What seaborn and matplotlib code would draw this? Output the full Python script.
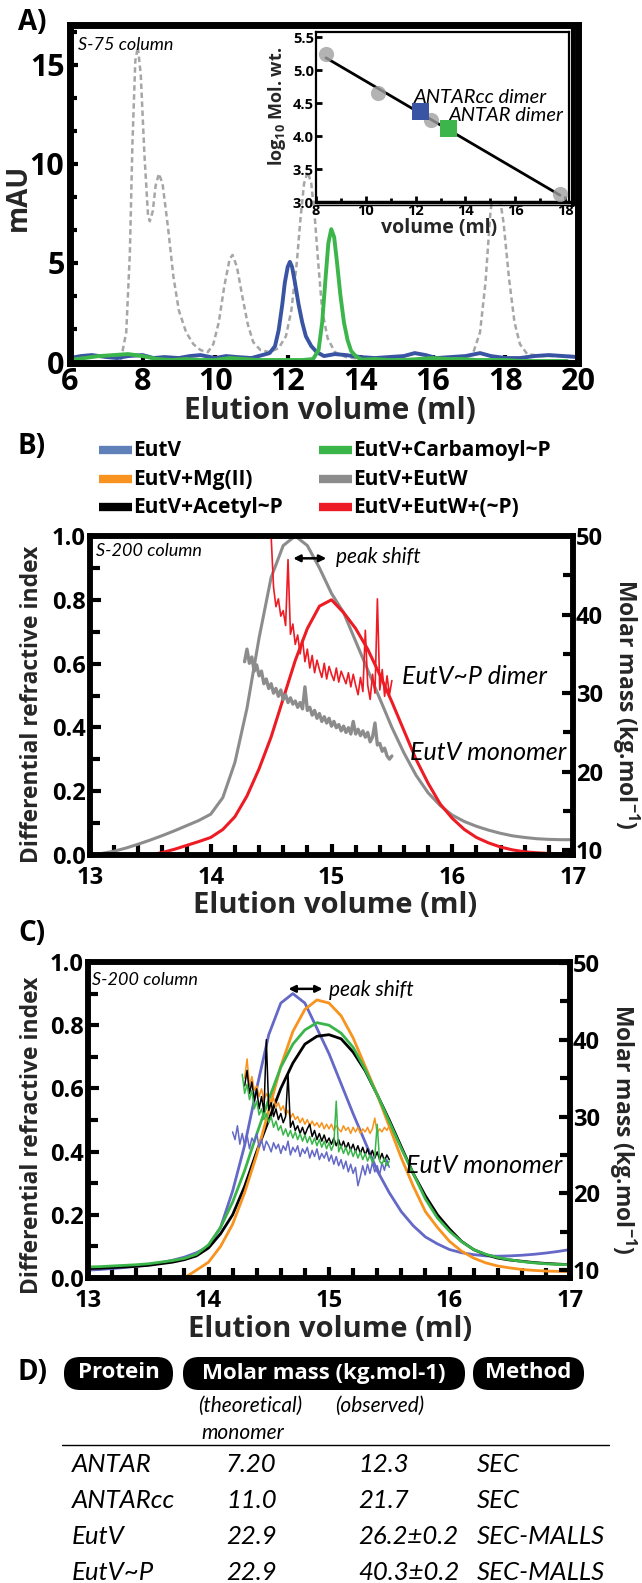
import numpy as np
import pandas as pd
import matplotlib
matplotlib.use("Agg")
import matplotlib.pyplot as plt
import seaborn as sns
from matplotlib.lines import Line2D
from matplotlib.patches import FancyBboxPatch
from matplotlib.ticker import MultipleLocator, FormatStrFormatter

# ---------------- Panel A data ----------------
A_std_x = [7.40, 7.55, 7.65, 7.72, 7.80, 7.87, 7.95, 8.05, 8.15, 8.20, 8.28, 8.36, 8.45, 8.55, 8.70,
           8.85, 9.00, 9.20, 9.40, 9.60, 9.80, 9.95, 10.10, 10.25, 10.40, 10.48, 10.60, 10.75, 10.90,
           11.05, 11.25, 11.50, 11.75, 11.95, 12.10, 12.25, 12.35, 12.45, 12.55, 12.65, 12.75, 12.85,
           12.95, 13.10, 13.30, 13.60, 14.00, 15.00, 16.00, 16.80, 17.10, 17.30, 17.45, 17.58, 17.70,
           17.82, 17.95, 18.10, 18.25, 18.40, 18.60, 19.00, 20.00]
A_std_y = [0.1, 1.5, 5.5, 11.0, 15.2, 15.9, 14.5, 10.5, 7.4, 7.1, 7.6, 8.9, 9.5, 9.0, 6.8,
           4.3, 2.6, 1.5, 0.9, 0.6, 0.5, 0.9, 2.0, 3.8, 5.2, 5.4, 4.8, 3.3, 1.9,
           1.0, 0.6, 0.5, 0.7, 1.3, 2.6, 5.0, 7.2, 9.0, 9.6, 9.0, 7.2, 4.8,
           2.6, 1.2, 0.5, 0.25, 0.15, 0.1, 0.1, 0.15, 0.4, 1.5, 4.0, 7.4, 9.3,
           8.6, 7.0, 4.2, 2.0, 0.9, 0.4, 0.3, 0.3]
A_antarcc_x = [6.0, 6.3, 6.6, 7.0, 7.3, 7.6, 8.0, 8.3, 8.6, 9.0, 9.3, 9.6, 10.0, 10.3, 10.6, 11.0,
               11.3, 11.5, 11.65, 11.75, 11.85, 11.92, 12.0, 12.06, 12.12, 12.2, 12.3, 12.4, 12.5,
               12.65, 12.8, 13.0, 13.3, 13.6, 14.0, 14.4, 14.8, 15.2, 15.5, 15.8, 16.1, 16.5, 16.9,
               17.3, 17.6, 18.0, 18.4, 18.8, 19.2, 19.6, 20.0]
A_antarcc_y = [0.2, 0.3, 0.35, 0.25, 0.2, 0.3, 0.35, 0.2, 0.25, 0.2, 0.3, 0.35, 0.2, 0.3, 0.25, 0.2,
               0.35, 0.45, 0.8, 1.6, 2.9, 4.0, 4.8, 5.05, 4.8, 4.0, 2.9, 2.0, 1.3,
               0.8, 0.5, 0.3, 0.4, 0.35, 0.25, 0.2, 0.25, 0.3, 0.45, 0.35, 0.2, 0.25, 0.3,
               0.45, 0.3, 0.2, 0.2, 0.3, 0.35, 0.3, 0.25]
A_antar_x = [6.0, 6.4, 6.8, 7.2, 7.6, 8.0, 8.4, 8.8, 9.2, 9.6, 10.0, 10.4, 10.8, 11.2, 11.6, 12.0,
             12.4, 12.7, 12.85, 12.95, 13.05, 13.12, 13.2, 13.28, 13.36, 13.45, 13.55, 13.65,
             13.75, 13.9, 14.05, 14.4, 14.8, 15.2, 15.6, 16.0, 16.4, 16.8, 17.2, 17.6, 18.0,
             18.4, 18.8, 19.2, 19.7]
A_antar_y = [0.1, 0.2, 0.3, 0.35, 0.4, 0.3, 0.15, 0.1, 0.15, 0.1, 0.1, 0.2, 0.15, 0.1, 0.1, 0.1,
             0.1, 0.15, 0.6, 2.0, 4.4, 6.0, 6.7, 6.3, 5.0, 3.4, 2.0, 1.1,
             0.55, 0.25, 0.12, 0.15, 0.1, 0.1, 0.15, 0.2, 0.15, 0.15, 0.1, 0.1, 0.1,
             0.05, 0.05, 0.05, 0.05]

# inset calibration
std_vol = [8.4, 10.5, 12.6, 17.8]
std_logmw = [5.24, 4.66, 4.25, 3.12]
sample_names = ["ANTARcc dimer", "ANTAR dimer"]
sample_vol = [12.18, 13.34]
sample_logmw = [4.37, 4.12]

# ---------------- Panels B / C data ----------------
RI_X = [13.0, 13.1, 13.2, 13.3, 13.4, 13.5, 13.6, 13.7, 13.8, 13.9, 14.0, 14.1, 14.2, 14.3, 14.4,
        14.5, 14.6, 14.7, 14.8, 14.9, 15.0, 15.1, 15.2, 15.3, 15.4, 15.5, 15.6, 15.7, 15.8, 15.9,
        16.0, 16.1, 16.2, 16.3, 16.4, 16.5, 16.6, 16.7, 16.8, 16.9, 17.0]
nan = np.nan
B_ri_eutw = [nan, 0.005, 0.012, 0.022, 0.034, 0.047, 0.061, 0.076, 0.092, 0.108, 0.128, 0.18, 0.29,
             0.46, 0.68, 0.87, 0.97, 1.0, 0.97, 0.90, 0.82, 0.76, 0.67, 0.58, 0.49, 0.40, 0.32,
             0.25, 0.195, 0.155, 0.125, 0.105, 0.09, 0.078, 0.068, 0.06, 0.055, 0.051, 0.049,
             0.048, 0.048]
B_ri_eutwp = [nan, nan, nan, nan, nan, 0.0, 0.008, 0.018, 0.03, 0.042, 0.055, 0.08, 0.12, 0.185,
              0.27, 0.37, 0.49, 0.61, 0.71, 0.78, 0.80, 0.76, 0.71, 0.645, 0.565, 0.48, 0.39,
              0.30, 0.225, 0.16, 0.115, 0.08, 0.055, 0.038, 0.025, 0.016, 0.01, 0.007, 0.005,
              0.004, 0.004]
C_ri_eutv = [0.025, 0.027, 0.03, 0.033, 0.037, 0.042, 0.048, 0.056, 0.066, 0.08, 0.10, 0.16, 0.275,
             0.42, 0.60, 0.77, 0.87, 0.90, 0.87, 0.79, 0.71, 0.615, 0.52, 0.43, 0.34, 0.27, 0.21,
             0.165, 0.13, 0.108, 0.09, 0.08, 0.074, 0.07, 0.069, 0.07, 0.072, 0.075, 0.079,
             0.084, 0.09]
C_ri_mg = [nan, nan, nan, nan, nan, nan, nan, nan, 0.0, 0.025, 0.05, 0.10, 0.17, 0.27, 0.39, 0.53,
           0.67, 0.78, 0.85, 0.88, 0.87, 0.83, 0.76, 0.67, 0.58, 0.48, 0.38, 0.29, 0.21, 0.16,
           0.116, 0.085, 0.063, 0.048, 0.038, 0.032, 0.027, 0.024, 0.022, 0.021, 0.02]
C_ri_carb = [0.035, 0.036, 0.038, 0.04, 0.042, 0.045, 0.05, 0.055, 0.062, 0.075, 0.105, 0.16, 0.24,
             0.34, 0.455, 0.565, 0.667, 0.74, 0.785, 0.808, 0.80, 0.775, 0.73, 0.66, 0.58, 0.495,
             0.41, 0.33, 0.25, 0.19, 0.148, 0.115, 0.09, 0.075, 0.065, 0.058, 0.052, 0.048,
             0.045, 0.043, 0.042]
C_ri_acetyl = [0.03, 0.031, 0.033, 0.035, 0.037, 0.04, 0.045, 0.05, 0.058, 0.07, 0.095, 0.14, 0.20,
               0.29, 0.40, 0.50, 0.60, 0.68, 0.74, 0.765, 0.77, 0.757, 0.715, 0.656, 0.58, 0.50,
               0.415, 0.33, 0.26, 0.20, 0.155, 0.116, 0.09, 0.074, 0.063, 0.057, 0.053, 0.049,
               0.046, 0.044, 0.042]

MM_X = [14.20, 14.22, 14.24, 14.26, 14.28, 14.30, 14.32, 14.34, 14.36, 14.38, 14.40, 14.42, 14.44,
        14.46, 14.48, 14.50, 14.52, 14.54, 14.56, 14.58, 14.60, 14.62, 14.64, 14.66, 14.68, 14.70,
        14.72, 14.74, 14.76, 14.78, 14.80, 14.82, 14.84, 14.86, 14.88, 14.90, 14.92, 14.94, 14.96,
        14.98, 15.00, 15.02, 15.04, 15.06, 15.08, 15.10, 15.12, 15.14, 15.16, 15.18, 15.20, 15.22,
        15.24, 15.26, 15.28, 15.30, 15.32, 15.34, 15.36, 15.38, 15.40, 15.42, 15.44, 15.46, 15.48,
        15.50]
B_mm_eutw = [nan, nan, nan, nan, 34.0, 35.6, 33.8, 34.6, 32.8, 33.6, 32.2, 32.8, 31.2,
             31.8, 30.6, 31.2, 30.0, 30.6, 29.6, 30.4, 29.2, 29.8, 28.8, 29.4, 28.6, 29.0,
             28.2, 28.8, 28.0, 30.8, 27.8, 28.2, 27.2, 27.8, 26.8, 27.4, 26.4, 27.0, 26.2,
             26.8, 25.8, 26.4, 25.6, 26.0, 25.2, 25.8, 25.0, 25.6, 24.8, 26.4, 24.8, 25.4,
             24.6, 25.2, 24.4, 25.0, 23.8, 24.4, 26.2, 23.4, 23.6, 22.6, 23.0, 22.0, 21.6,
             22.0]
B_mm_eutwp = [nan, nan, nan, nan, nan, nan, nan, nan, nan, nan, nan, nan, nan,
              nan, nan, 50.0, 43.5, 41.0, 42.0, 39.8, 40.5, 38.6, 47.0, 37.5, 38.8, 36.2,
              37.4, 35.0, 36.8, 34.0, 35.6, 33.2, 34.8, 32.6, 34.2, 33.0, 32.0, 33.8, 31.8,
              33.4, 32.4, 31.6, 33.2, 31.4, 32.8, 32.0, 31.2, 32.6, 30.8, 32.4, 31.0, 29.8,
              32.0, 30.2, 38.0, 31.0, 29.2, 32.4, 30.0, 42.0, 30.4, 33.0, 29.6, 32.2, 29.8,
              31.6]
C_mm_eutv = [28.0, 27.0, 28.8, 26.4, 27.8, 26.2, 27.6, 25.8, 27.2, 26.6, 27.8, 26.0, 27.0,
             25.6, 26.8, 26.2, 25.4, 26.6, 25.8, 26.4, 25.2, 26.2, 25.6, 26.8, 25.0, 26.0,
             25.4, 26.2, 24.8, 25.8, 25.2, 26.0, 24.6, 25.6, 24.8, 25.8, 24.4, 25.2, 24.6,
             25.4, 24.2, 25.0, 23.8, 24.8, 23.6, 24.4, 23.2, 24.2, 22.8, 23.8, 22.6, 23.4,
             21.0, 22.2, 23.6, 22.4, 23.8, 22.6, 24.0, 22.8, 23.6, 22.4, 24.0, 23.0, 24.4,
             23.4]
C_mm_mg = [nan, nan, nan, nan, nan, 35.0, 37.5, 34.0, 35.2, 33.4, 34.0, 32.6, 33.6,
           32.0, 33.0, 32.4, 31.6, 32.4, 31.2, 31.8, 30.8, 31.4, 30.2, 30.8, 29.8, 30.4,
           29.6, 30.0, 29.2, 29.8, 29.0, 29.6, 28.8, 29.4, 28.8, 29.2, 28.6, 29.2, 28.4,
           29.0, 28.4, 29.0, 28.2, 28.8, 28.4, 28.0, 28.8, 28.2, 28.6, 27.8, 28.6, 28.0,
           28.6, 27.8, 28.4, 28.0, 28.6, 27.8, 28.4, 29.8, 27.8, 28.4, 28.0, 28.6, 28.2,
           28.8]
C_mm_acetyl = [nan, nan, nan, nan, nan, 34.0, 36.0, 33.0, 34.5, 32.0, 33.6, 31.0, 32.6,
               30.6, 40.0, 30.8, 31.8, 30.0, 31.0, 29.6, 30.4, 29.2, 30.0, 35.5, 28.6, 29.4,
               28.2, 28.8, 27.8, 28.6, 27.6, 28.4, 29.0, 27.4, 28.2, 27.0, 27.8, 26.8, 27.6,
               26.6, 27.2, 26.4, 27.2, 26.2, 27.0, 26.0, 26.8, 25.8, 26.6, 25.6, 26.4, 25.4,
               26.2, 25.2, 26.0, 25.0, 25.8, 24.8, 25.6, 24.6, 25.4, 24.4, 25.2, 24.2, 25.0,
               24.4]
C_mm_carb = [nan, nan, nan, nan, 35.5, 33.0, 34.2, 32.2, 33.4, 31.0, 32.0, 30.2, 31.0,
             29.6, 30.4, 29.2, 30.0, 28.6, 29.4, 28.2, 28.8, 27.6, 28.4, 27.4, 28.2, 27.2,
             28.0, 27.0, 27.8, 26.8, 27.6, 26.6, 27.4, 26.4, 27.2, 26.2, 27.0, 26.0, 26.8,
             25.8, 26.6, 25.6, 26.4, 32.0, 25.4, 26.2, 25.2, 26.0, 25.0, 25.8, 24.8, 25.6,
             24.6, 25.4, 24.4, 25.2, 24.2, 25.0, 24.0, 24.8, 29.0, 24.2, 23.8, 24.6, 23.6,
             24.2]

legend_labels = ["EutV", "EutV+Mg(II)", "EutV+Acetyl~P",
                 "EutV+Carbamoyl~P", "EutV+EutW", "EutV+EutW+(~P)"]

# ---------------- Panel D table ----------------
tab_headers = ["Protein", "Molar mass (kg.mol-1)", "Method"]
tab_sub = ["(theoretical)", "(observed)", "monomer"]
tab_protein = ["ANTAR", "ANTARcc", "EutV", "EutV~P"]
tab_theor = ["7.20", "11.0", "22.9", "22.9"]
tab_obs = ["12.3", "21.7", "26.2\u00b10.2", "40.3\u00b10.2"]
tab_method = ["SEC", "SEC", "SEC-MALLS", "SEC-MALLS"]

# ---------------- style ----------------
C_BLUE_A = "#3a54a4"
C_GREEN_A = "#3cb64a"
C_EUTV = "#6468c6"
C_MG = "#f7931e"
C_ACET = "#000000"
C_CARB = "#39b54a"
C_EUTW = "#8c8c8c"
C_RED = "#ed1c24"

sns.set_theme(style="ticks")
plt.rcParams['font.family'] = ['Open Sans', 'DejaVu Sans']
plt.rcParams['font.weight'] = 'bold'
plt.rcParams['axes.labelweight'] = 'bold'
plt.rcParams['mathtext.fontset'] = 'custom'
plt.rcParams['mathtext.rm'] = 'Open Sans:bold'
plt.rcParams['mathtext.it'] = 'Open Sans:bold'
plt.rcParams['mathtext.bf'] = 'Open Sans:bold'
plt.rcParams['axes.edgecolor'] = 'black'
plt.rcParams['text.color'] = 'black'
plt.rcParams['xtick.color'] = 'black'
plt.rcParams['ytick.color'] = 'black'

ITAL = dict(family=['Lato', 'DejaVu Sans'], style='italic', weight='normal')

W, H = 642, 1583
fig = plt.figure(figsize=(W / 100, H / 100), dpi=100)
fig.patch.set_facecolor('white')


def px_axes(l, t, r, b, **kw):
    return fig.add_axes([l / W, 1 - b / H, (r - l) / W, (b - t) / H], **kw)


def style_spines(ax, lw):
    for s in ax.spines.values():
        s.set_linewidth(lw)
        s.set_color('black')
        s.set_visible(True)


# ================= Panel A =================
axA = px_axes(70, 25, 578, 363)
sns.lineplot(x=A_std_x, y=A_std_y, ax=axA, color="#a6a6a6", lw=1.8,
             linestyle=(0, (2.2, 1.4)), sort=False, estimator=None)
sns.lineplot(x=A_antarcc_x, y=A_antarcc_y, ax=axA, color=C_BLUE_A, lw=2.8,
             sort=False, estimator=None)
sns.lineplot(x=A_antar_x, y=A_antar_y, ax=axA, color=C_GREEN_A, lw=2.8,
             sort=False, estimator=None)
axA.set_xlim(6, 20)
axA.set_ylim(-0.05, 17.0)
style_spines(axA, 5)
axA.xaxis.set_major_locator(MultipleLocator(2))
axA.yaxis.set_major_locator(MultipleLocator(5))
axA.yaxis.set_minor_locator(MultipleLocator(5 / 3))
axA.tick_params(axis='both', which='major', direction='in', length=6, width=3,
                labelsize=22, top=False, right=False)
axA.tick_params(axis='x', which='major', pad=3)
axA.tick_params(axis='y', which='major', pad=4)
axA.tick_params(axis='y', which='minor', direction='in', length=5, width=3, left=True)
axA.set_xlabel("Elution volume (ml)", fontsize=21.5, fontweight='bold')
axA.xaxis.set_label_coords(0.512, -0.142)
axA.xaxis.label.set_va('center')
axA.set_ylabel("mAU", fontsize=20, fontweight='bold')
axA.yaxis.set_label_coords(-0.102, 0.49)
axA.yaxis.label.set_va('center')
axA.text(6.22, 15.98, "S-75 column", fontsize=13, va='center', ha='left', **ITAL)

# inset
axI = px_axes(316, 32, 569, 202, zorder=5)
axI.set_facecolor('white')
sns.regplot(x=std_vol, y=std_logmw, ax=axI, ci=None, truncate=True,
            scatter_kws=dict(s=120, color="#a0a0a0", zorder=3, linewidths=0),
            line_kws=dict(color='black', lw=2, zorder=2))
sns.scatterplot(x=sample_vol, y=sample_logmw, hue=sample_names,
                palette=[C_BLUE_A, C_GREEN_A], marker='s', s=150, linewidth=0,
                legend=False, ax=axI, zorder=4)
axI.set_xlim(8, 18.16)
axI.set_ylim(3.0, 5.58)
style_spines(axI, 1.6)
axI.spines['bottom'].set_linewidth(2.5)
axI.xaxis.set_major_locator(MultipleLocator(2))
axI.xaxis.set_minor_locator(MultipleLocator(1))
axI.yaxis.set_major_locator(MultipleLocator(0.5))
axI.tick_params(axis='both', which='major', direction='in', length=4, width=2,
                labelsize=10.5, pad=1.5)
axI.tick_params(axis='x', which='minor', direction='in', length=3, width=2, bottom=True)
axI.yaxis.set_major_formatter(FormatStrFormatter('%.1f'))
axI.set_xlabel("volume (ml)", fontsize=14, fontweight='bold')
axI.xaxis.set_label_coords(0.486, -0.15)
axI.xaxis.label.set_va('center')
axI.set_ylabel(r"log$_{\mathbf{10}}$ Mol. wt.", fontsize=13, fontweight='bold')
axI.yaxis.set_label_coords(-0.155, 0.56)
axI.yaxis.label.set_va('center')
axI.text(11.94, 4.59, sample_names[0], fontsize=14.5, va='center', ha='left', **ITAL)
axI.text(13.34, 4.32, sample_names[1], fontsize=14.5, va='center', ha='left', **ITAL)


def setup_sec(ax, ax2, right_lim):
    ax.set_xlim(13, 17)
    ax.set_ylim(0, 1.0)
    ax2.set_ylim(*right_lim)
    style_spines(ax, 4)
    style_spines(ax2, 4)
    ax.xaxis.set_major_locator(MultipleLocator(1))
    ax.xaxis.set_minor_locator(MultipleLocator(0.2))
    ax.yaxis.set_major_locator(MultipleLocator(0.2))
    ax.yaxis.set_minor_locator(MultipleLocator(0.1))
    ax2.yaxis.set_major_locator(MultipleLocator(10))
    ax2.yaxis.set_minor_locator(MultipleLocator(5))
    ax.tick_params(axis='both', which='major', direction='in', length=8, width=3,
                   labelsize=17, top=False, right=False)
    ax.tick_params(axis='x', which='major', pad=8)
    ax.tick_params(axis='y', which='major', pad=3)
    ax.tick_params(axis='both', which='minor', direction='in', length=7, width=3,
                   top=False, right=False, bottom=True, left=True)
    ax2.tick_params(axis='y', which='major', direction='in', length=8, width=3,
                    labelsize=17, pad=2)
    ax2.tick_params(axis='y', which='minor', direction='in', length=7, width=3)
    ax.yaxis.set_major_formatter(FormatStrFormatter('%.1f'))


def plot_ri(ax, y, color, lw=2.0):
    d = pd.DataFrame({'x': RI_X, 'y': y}).dropna()
    sns.lineplot(data=d, x='x', y='y', ax=ax, color=color, lw=lw, sort=False, estimator=None)


def plot_mm(ax, y, color, lw=1.1):
    d = pd.DataFrame({'x': MM_X, 'y': y}).dropna()
    sns.lineplot(data=d, x='x', y='y', ax=ax, color=color, lw=lw, sort=False, estimator=None)


# ================= Panel B =================
axB = px_axes(90, 536, 573, 855)
axB2 = axB.twinx()
plot_ri(axB, B_ri_eutw, C_EUTW, 2.2)
plot_ri(axB, B_ri_eutwp, C_RED, 2.2)
plot_mm(axB2, B_mm_eutw, C_EUTW, 2.4)
plot_mm(axB2, B_mm_eutwp, C_RED, 1.2)
setup_sec(axB, axB2, (9.4, 50.0))
axB.set_xlabel("Elution volume (ml)", fontsize=21, fontweight='bold')
axB.xaxis.set_label_coords(0.507, -0.158)
axB.xaxis.label.set_va('center')
axB.set_ylabel("Differential refractive index", fontsize=16.5, fontweight='bold')
axB.yaxis.set_label_coords(-0.12, 0.473)
axB.yaxis.label.set_va('center')
axB2.set_ylabel(r"Molar mass (kg.mol$^{\mathbf{-1}}$)", fontsize=16.5, fontweight='bold',
                rotation=270)
axB2.yaxis.set_label_coords(1.108, 0.473)
axB2.yaxis.label.set_va('center')
axB.text(13.05, 0.953, "S-200 column", fontsize=13, va='center', ha='left', **ITAL)
axB.text(15.04, 0.935, "peak shift", fontsize=15, va='center', ha='left', **ITAL)
axB.annotate('', xy=(14.98, 0.93), xytext=(14.66, 0.93),
             arrowprops=dict(arrowstyle='<|-|>', lw=1.8, color='black', mutation_scale=10))
axB.text(15.585, 0.558, "EutV~P dimer", fontsize=18, va='center', ha='left', **ITAL)
axB.text(15.65, 0.321, "EutV monomer", fontsize=18, va='center', ha='left', **ITAL)

# ================= Panel C =================
axC = px_axes(88, 962, 570, 1278)
axC2 = axC.twinx()
plot_ri(axC, C_ri_eutv, C_EUTV)
plot_ri(axC, C_ri_acetyl, C_ACET)
plot_ri(axC, C_ri_mg, C_MG)
plot_ri(axC, C_ri_carb, C_CARB)
plot_mm(axC2, C_mm_eutv, C_EUTV)
plot_mm(axC2, C_mm_mg, C_MG)
plot_mm(axC2, C_mm_acetyl, C_ACET)
plot_mm(axC2, C_mm_carb, C_CARB)
setup_sec(axC, axC2, (9.0, 50.1))
axC.set_xlabel("Elution volume (ml)", fontsize=21, fontweight='bold')
axC.xaxis.set_label_coords(0.502, -0.162)
axC.xaxis.label.set_va('center')
axC.set_ylabel("Differential refractive index", fontsize=16.5, fontweight='bold')
axC.yaxis.set_label_coords(-0.116, 0.45)
axC.yaxis.label.set_va('center')
axC2.set_ylabel(r"Molar mass (kg.mol$^{\mathbf{-1}}$)", fontsize=16.5, fontweight='bold',
                rotation=270)
axC2.yaxis.set_label_coords(1.11, 0.47)
axC2.yaxis.label.set_va('center')
axC.text(13.03, 0.942, "S-200 column", fontsize=13, va='center', ha='left', **ITAL)
axC.text(15.0, 0.91, "peak shift", fontsize=15, va='center', ha='left', **ITAL)
axC.annotate('', xy=(14.97, 0.915), xytext=(14.64, 0.915),
             arrowprops=dict(arrowstyle='<|-|>', lw=1.8, color='black', mutation_scale=10))
axC.text(15.64, 0.355, "EutV monomer", fontsize=18, va='center', ha='left', **ITAL)

# ================= overlay (labels, legend, table) =================
axo = fig.add_axes([0, 0, 1, 1], zorder=10)
axo.set_xlim(0, W)
axo.set_ylim(H, 0)
axo.axis('off')
for lab, yy in zip(["A)", "B)", "C)", "D)"], [22, 446, 933, 1373]):
    axo.text(18, yy, lab, fontsize=20, fontweight='bold', va='center', ha='left')
# inset outer frame (double line)
axo.add_line(Line2D([572.5, 572.5], [25, 205], color='black', lw=3))
axo.add_line(Line2D([316, 574], [204.5, 204.5], color='black', lw=1.0))

# legend (two columns, three rows)
legend_colors = ["#5f80b8", C_MG, C_ACET, C_CARB, C_EUTW, C_RED]
leg_cols = [99, 319]
leg_rows = [450, 479, 507]
for i, (lab, col) in enumerate(zip(legend_labels, legend_colors)):
    cx = leg_cols[i // 3]
    ry = leg_rows[i % 3]
    axo.add_line(Line2D([cx, cx + 33], [ry, ry], color=col, lw=6, solid_capstyle='butt'))
    axo.text(cx + 34, ry, lab, fontsize=15, fontweight='bold', va='center', ha='left')

# table headers
hdr_boxes = [(64, 173), (183, 465), (473, 584)]
for (x0, x1), txt in zip(hdr_boxes, tab_headers):
    axo.add_patch(FancyBboxPatch((x0, 1357), x1 - x0, 33,
                                 boxstyle="round,pad=0,rounding_size=16",
                                 fc='black', ec='black', lw=0))
    axo.text((x0 + x1) / 2, 1373, txt, color='white', fontsize=16, fontweight='bold',
             ha='center', va='center')
axo.text(198, 1406, tab_sub[0], fontsize=15, va='center', ha='left', **ITAL)
axo.text(335, 1406, tab_sub[1], fontsize=15, va='center', ha='left', **ITAL)
axo.text(201, 1433, tab_sub[2], fontsize=15, va='center', ha='left', **ITAL)
axo.add_line(Line2D([62, 609], [1445, 1445], color='black', lw=1.0))
row_y = [1464, 1500, 1537, 1573]
for i, yy in enumerate(row_y):
    axo.text(72, yy, tab_protein[i], fontsize=18.5, va='center', ha='left', **ITAL)
    axo.text(226, yy, tab_theor[i], fontsize=18.5, va='center', ha='left', **ITAL)
    axo.text(358, yy, tab_obs[i], fontsize=18.5, va='center', ha='left', **ITAL)
    axo.text(477, yy, tab_method[i], fontsize=18.5, va='center', ha='left', **ITAL)

fig.savefig("out.png", dpi=100)
